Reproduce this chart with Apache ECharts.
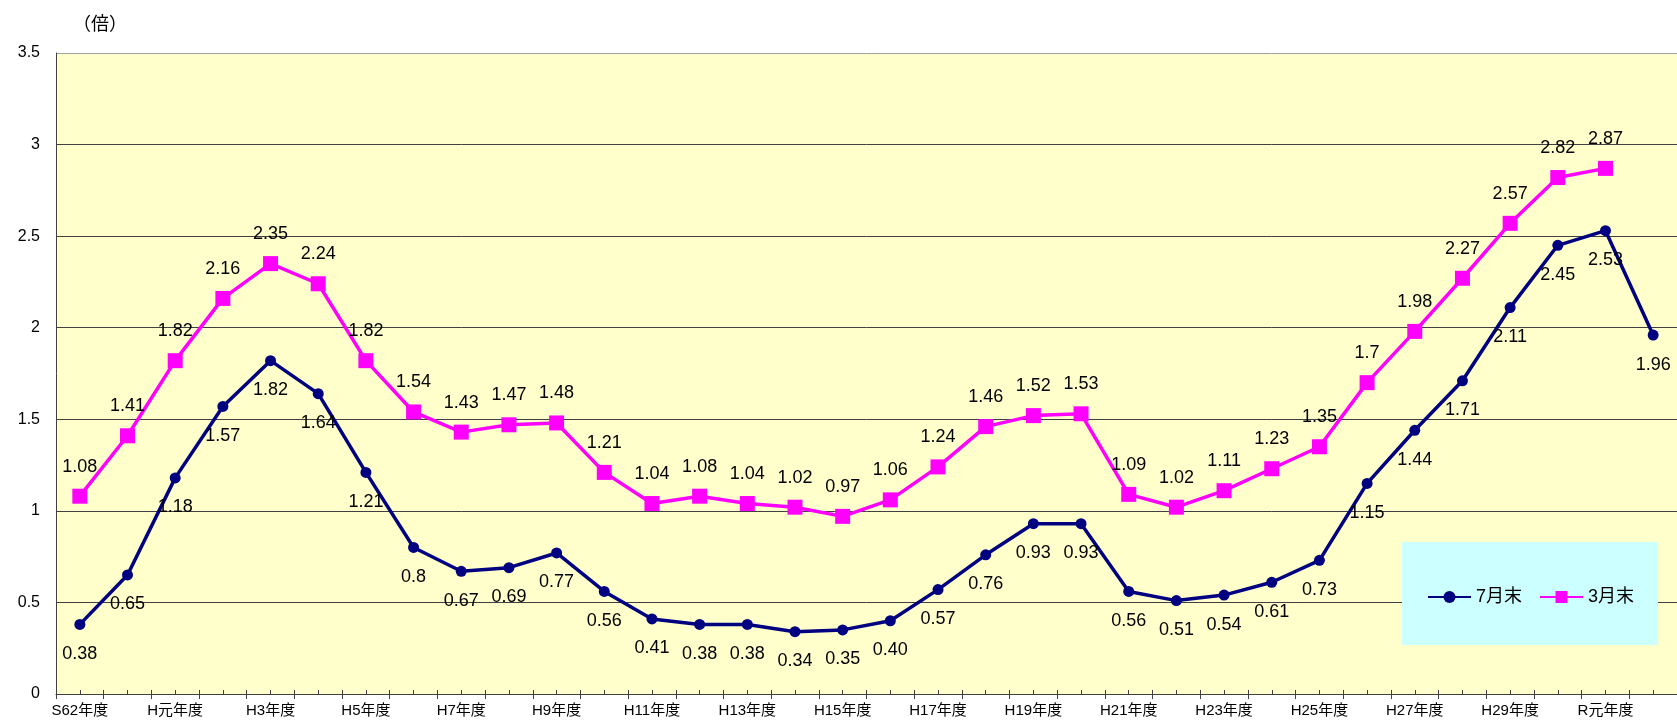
<!DOCTYPE html>
<html>
<head>
<meta charset="utf-8">
<script src="https://cdn.jsdelivr.net/npm/echarts@6/dist/echarts.min.js"></script>
<style>
  html, body { margin: 0; padding: 0; background: #fff; }
  #chart { width: 1677px; height: 723px; }
</style>
</head>
<body>
<div id="chart"></div>
<script>
// 年度
var years = ['S62年度', 'S63年度', 'H元年度', 'H2年度', 'H3年度', 'H4年度', 'H5年度', 'H6年度',
  'H7年度', 'H8年度', 'H9年度', 'H10年度', 'H11年度', 'H12年度', 'H13年度', 'H14年度',
  'H15年度', 'H16年度', 'H17年度', 'H18年度', 'H19年度', 'H20年度', 'H21年度', 'H22年度',
  'H23年度', 'H24年度', 'H25年度', 'H26年度', 'H27年度', 'H28年度', 'H29年度', 'H30年度',
  'R元年度', 'R2年度']
// 7月末 (倍)
var julyData = ['0.38', '0.65', '1.18', '1.57', '1.82', '1.64', '1.21', '0.8',
  '0.67', '0.69', '0.77', '0.56', '0.41', '0.38', '0.38', '0.34',
  '0.35', '0.40', '0.57', '0.76', '0.93', '0.93', '0.56', '0.51',
  '0.54', '0.61', '0.73', '1.15', '1.44', '1.71', '2.11', '2.45',
  '2.53', '1.96']
// 3月末 (倍)
var marchData = ['1.08', '1.41', '1.82', '2.16', '2.35', '2.24', '1.82', '1.54',
  '1.43', '1.47', '1.48', '1.21', '1.04', '1.08', '1.04', '1.02',
  '0.97', '1.06', '1.24', '1.46', '1.52', '1.53', '1.09', '1.02',
  '1.11', '1.23', '1.35', '1.7', '1.98', '2.27', '2.57', '2.82',
  '2.87', null]

var FONT = '"Liberation Sans", "Noto Sans CJK JP", sans-serif'

var chart = echarts.init(document.getElementById('chart'))

function labelOf(p) {
  return String(p.data)
}

chart.setOption({
  animation: false,
  textStyle: { fontFamily: FONT, color: '#000' },
  title: {
    text: '（倍）',
    left: 68,
    top: 11,
    textStyle: { fontSize: 18, fontWeight: 'normal', color: '#000', fontFamily: FONT }
  },
  graphic: [{
    type: 'rect',
    left: 1402,
    top: 542,
    z: 1,
    shape: { width: 256, height: 103 },
    style: { fill: '#CCFFFF' }
  }],
  legend: {
    left: 1422,
    top: 583,
    itemWidth: 43,
    itemHeight: 15,
    itemGap: 17,
    textStyle: { fontSize: 18, color: '#000', fontFamily: FONT },
    data: ['7月末', '3月末']
  },
  grid: {
    left: 56,
    top: 53,
    width: 1624,
    height: 641,
    show: true,
    backgroundColor: '#FFFFCC',
    borderWidth: 0
  },
  xAxis: [
    {
      type: 'category',
      data: years,
      boundaryGap: true,
      axisLine: { lineStyle: { color: '#404040', width: 1 } },
      axisTick: { show: true, interval: 0, length: 5, lineStyle: { color: '#404040' } },
      axisLabel: { interval: 1, fontSize: 15, margin: 9, color: '#000', fontFamily: FONT }
    },
    {
      // 目盛り (内側)
      type: 'value',
      min: 0,
      max: 34,
      interval: 0.5,
      position: 'bottom',
      axisLine: { show: false },
      axisTick: { show: true, inside: true, length: 4, lineStyle: { color: '#404040' } },
      axisLabel: { show: false },
      splitLine: { show: false }
    }
  ],
  yAxis: {
    type: 'value',
    min: 0,
    max: 3.5,
    interval: 0.5,
    axisLine: { show: true, lineStyle: { color: '#404040', width: 1 } },
    axisTick: { show: false },
    axisLabel: { fontSize: 16, margin: 16, color: '#000', fontFamily: FONT },
    splitLine: {
      lineStyle: {
        color: ['#404040', '#404040', '#404040', '#404040', '#404040', '#404040', '#404040', '#a0a0a0'],
        width: 1
      }
    }
  },
  series: [
    {
      name: '7月末',
      type: 'line',
      xAxisIndex: 0,
      data: julyData,
      symbol: 'circle',
      symbolSize: 11,
      lineStyle: { color: '#000080', width: 3.5 },
      itemStyle: { color: '#000080' },
      label: {
        show: true,
        position: 'bottom',
        distance: 15,
        fontSize: 18,
        lineHeight: 18,
        color: '#000',
        fontFamily: FONT,
        formatter: labelOf
      },
      z: 3
    },
    {
      name: '3月末',
      type: 'line',
      xAxisIndex: 0,
      data: marchData,
      symbol: 'rect',
      symbolSize: 15,
      lineStyle: { color: '#FF00FF', width: 3.5 },
      itemStyle: { color: '#FF00FF' },
      label: {
        show: true,
        position: 'top',
        distance: 13,
        fontSize: 18,
        lineHeight: 18,
        color: '#000',
        fontFamily: FONT,
        formatter: labelOf
      },
      z: 3
    }
  ]
})
</script>
</body>
</html>
